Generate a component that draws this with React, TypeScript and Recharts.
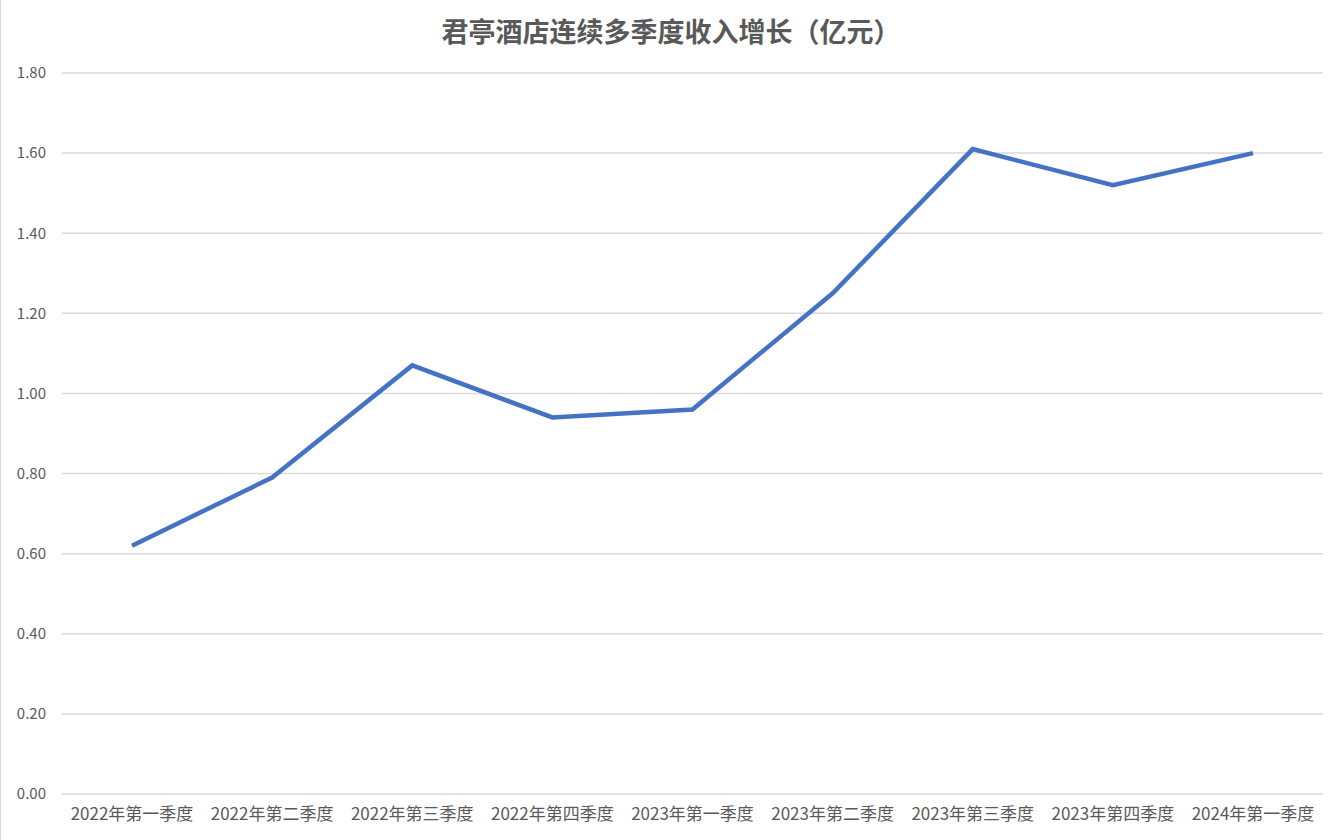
import React from 'react';
import { LineChart, Line, XAxis, YAxis, CartesianGrid } from 'recharts';

const quarters = [
  '2022年第一季度',
  '2022年第二季度',
  '2022年第三季度',
  '2022年第四季度',
  '2023年第一季度',
  '2023年第二季度',
  '2023年第三季度',
  '2023年第四季度',
  '2024年第一季度',
];
const revenue = [0.62, 0.79, 1.07, 0.94, 0.96, 1.25, 1.61, 1.52, 1.6];
const yTicks = [0, 0.2, 0.4, 0.6, 0.8, 1.0, 1.2, 1.4, 1.6, 1.8];

const data = quarters.map((q, i) => ({ quarter: q, revenue: revenue[i] }));

const font = '"Microsoft YaHei", "Noto Sans CJK SC", sans-serif';

export default function App() {
  return (
    <div
      style={{
        position: 'fixed',
        left: 0,
        top: 0,
        width: 1341,
        height: 840,
        background: '#fff',
        borderLeft: '1px solid #d9d9d9',
        boxSizing: 'border-box',
        fontFamily: font,
      }}
    >
      <div
        style={{
          position: 'absolute',
          top: 11,
          left: 0,
          width: '100%',
          textAlign: 'center',
          fontSize: 27,
          fontWeight: 'bold',
          color: '#595959',
        }}
      >
        君亭酒店连续多季度收入增长（亿元）
      </div>
      <LineChart
        width={1340}
        height={840}
        data={data}
        margin={{ top: 73, right: 18, bottom: 0, left: 0 }}
      >
        <CartesianGrid vertical={false} stroke="#d9d9d9" strokeWidth={1.5} />
        <XAxis
          dataKey="quarter"
          axisLine={false}
          tickLine={false}
          interval={0}
          padding={{ left: 70, right: 70 }}
          tick={{ fill: '#595959', fontSize: 17, fontFamily: font }}
          tickMargin={8}
          height={46}
        />
        <YAxis
          width={61}
          domain={[0, 1.8]}
          ticks={yTicks}
          axisLine={false}
          tickLine={false}
          tickMargin={10}
          tickFormatter={(v: number) => v.toFixed(2)}
          tick={{ fill: '#595959', fontSize: 15, fontFamily: font }}
        />
        <Line
          type="linear"
          dataKey="revenue"
          stroke="#4472C4"
          strokeWidth={4.5}
          dot={false}
          activeDot={false}
          isAnimationActive={false}
        />
      </LineChart>
    </div>
  );
}
